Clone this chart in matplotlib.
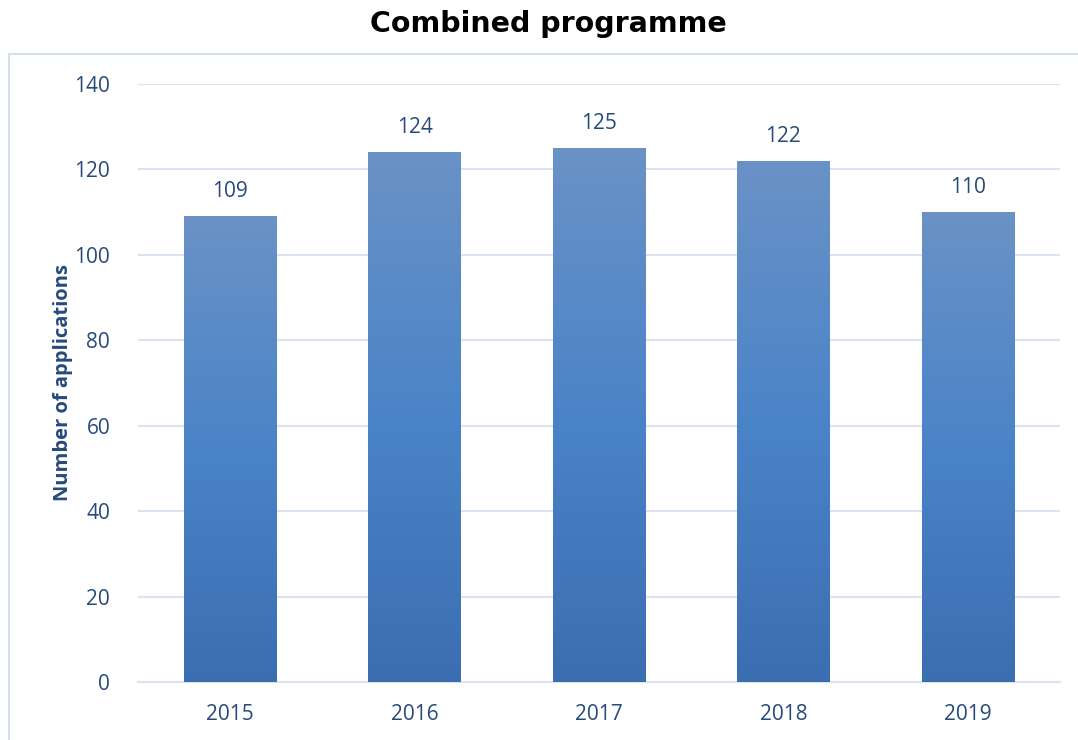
import numpy as np
import matplotlib
matplotlib.use("Agg")
import matplotlib.pyplot as plt
from matplotlib.patches import Rectangle
from matplotlib.colors import LinearSegmentedColormap

years = ['2015', '2016', '2017', '2018', '2019']
applications = [109, 124, 125, 122, 110]

text_col = '#264a7c'
grid_col = '#d9e3f1'

plt.rcParams['font.family'] = ['Open Sans', 'DejaVu Sans']

fig = plt.figure(figsize=(10.78, 7.4), dpi=100)
ax = fig.add_axes([0.128, 0.0784, 0.8553, 0.8081])

# frame around the plot area (chart border)
fig.patches.append(Rectangle((9 / 1078, -0.1), 1.2, 1 - 54 / 740 + 0.1,
                             transform=fig.transFigure, fill=False,
                             edgecolor='#d3deee', linewidth=1.5, zorder=0))

cmap = LinearSegmentedColormap.from_list('bar', ['#3b6eb1', '#4a84c8', '#6a92c6'])
grad = np.linspace(0, 1, 256).reshape(-1, 1)

x = np.arange(len(years))
width = 0.5
bars = ax.bar(x, applications, width=width, color='none', edgecolor='none', zorder=3)
for b, v in zip(bars, applications):
    im = ax.imshow(grad, cmap=cmap, origin='lower', aspect='auto',
                   extent=[b.get_x(), b.get_x() + b.get_width(), 0, b.get_height()],
                   zorder=3)
    im.set_clip_path(b)
    ax.text(b.get_x() + b.get_width() / 2, v + 3.3, str(v), ha='center', va='bottom',
            fontsize=15, color=text_col)

ax.set_xlim(-0.5, len(years) - 0.5)
ax.set_ylim(0, 140)
ax.set_yticks(range(0, 141, 20))
ax.set_xticks(x)
ax.set_xticklabels(years)
ax.tick_params(axis='both', length=0, labelsize=15, labelcolor=text_col)
ax.tick_params(axis='y', pad=20)
ax.tick_params(axis='x', pad=16)
ax.grid(axis='y', color=grid_col, linewidth=1.5, zorder=0)
ax.set_axisbelow(True)
for s in ['top', 'right', 'left']:
    ax.spines[s].set_visible(False)
ax.spines['bottom'].set_color(grid_col)
ax.spines['bottom'].set_linewidth(1.5)

ax.set_ylabel('Number of applications', fontsize=14.5, fontweight='bold',
              color=text_col, labelpad=1)
fig.text(0.509, 0.968, 'Combined programme', ha='center', va='center',
         fontsize=20.5, fontweight='bold', color='black', family=['DejaVu Sans'])

fig.savefig('out.png', dpi=100)
